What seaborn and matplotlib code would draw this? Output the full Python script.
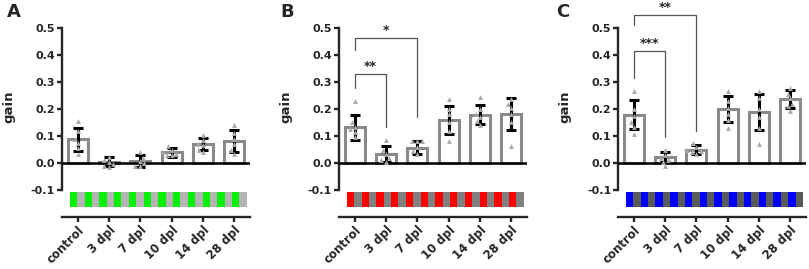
import matplotlib
matplotlib.use('Agg')
import matplotlib.pyplot as plt
import numpy as np
import pandas as pd
import seaborn as sns

###
groups = ['control', '3 dpl', '7 dpl', '10 dpl', '14 dpl', '28 dpl']

a_mean = [0.088, 0.005, 0.008, 0.039, 0.069, 0.082]
a_sd = [0.043, 0.016, 0.023, 0.016, 0.022, 0.040]
a_pts = [[0.155, 0.12, 0.09, 0.075, 0.055, 0.035],
         [0.024, 0.012, 0.005, -0.005, -0.012, -0.015],
         [0.041, 0.02, 0.008, 0.0, -0.012, -0.010],
         [0.062, 0.05, 0.042, 0.035, 0.03, 0.028],
         [0.105, 0.085, 0.072, 0.065, 0.05, 0.04],
         [0.14, 0.11, 0.09, 0.07, 0.05, 0.035]]

b_mean = [0.133, 0.034, 0.057, 0.160, 0.178, 0.182]
b_sd = [0.046, 0.030, 0.023, 0.052, 0.035, 0.060]
b_pts = [[0.228, 0.15, 0.135, 0.125, 0.115, 0.095],
         [0.085, 0.05, 0.035, 0.02, 0.01, 0.005],
         [0.082, 0.082, 0.08, 0.06, 0.045, 0.035],
         [0.236, 0.2, 0.18, 0.15, 0.12, 0.081],
         [0.243, 0.2, 0.18, 0.17, 0.155, 0.14],
         [0.238, 0.22, 0.205, 0.18, 0.15, 0.063]]

c_mean = [0.179, 0.022, 0.050, 0.200, 0.189, 0.237]
c_sd = [0.053, 0.020, 0.018, 0.047, 0.067, 0.032]
c_pts = [[0.265, 0.2, 0.175, 0.15, 0.135, 0.107],
         [0.05, 0.03, 0.02, 0.01, 0.005, -0.012],
         [0.074, 0.06, 0.05, 0.045, 0.04, 0.035],
         [0.268, 0.23, 0.205, 0.18, 0.16, 0.13],
         [0.266, 0.24, 0.2, 0.17, 0.13, 0.07],
         [0.278, 0.255, 0.24, 0.22, 0.21, 0.194]]

# brackets: (from, to, level, left leg end, right leg end, label)
b_sig = [(0, 1, 0.330, 0.277, 0.134, '**'),
         (0, 2, 0.462, 0.420, 0.171, '*')]
c_sig = [(0, 1, 0.416, 0.315, 0.097, '***'),
         (0, 2, 0.548, 0.511, 0.120, '**')]

yticks = [-0.1, 0.0, 0.1, 0.2, 0.3, 0.4, 0.5]
###

sns.set_style('ticks')
plt.rcParams['font.family'] = ['DejaVu Sans']
plt.rcParams['font.weight'] = 'bold'
plt.rcParams['axes.unicode_minus'] = False


def panel(ax, mean, sd, pts, stripe_col, gray_col, sig):
    mdf = pd.DataFrame({'group': groups, 'gain': mean})
    pdf = pd.DataFrame({'group': np.repeat(groups, [len(p) for p in pts]),
                        'gain': np.concatenate(pts)})
    sns.barplot(data=mdf, x='group', y='gain', order=groups, width=0.64,
                color='white', edgecolor='#8a8a8a', linewidth=2.2,
                saturation=1, errorbar=None, ax=ax, zorder=1)
    ax.errorbar(np.arange(len(groups)), mean, yerr=sd, fmt='none',
                ecolor='black', elinewidth=2.2, capsize=3.5, capthick=2.2,
                zorder=4)
    sns.swarmplot(data=pdf, x='group', y='gain', order=groups, marker='^',
                  color='#a8a8a8', size=3.5, ax=ax, zorder=5)
    ax.axhline(0, color='black', lw=1.8, zorder=3)
    # striped bar under the data
    n = 24
    edges = np.linspace(-0.25, 5.4, n + 1)
    cols = [stripe_col if i % 2 == 0 else gray_col for i in range(n)]
    ax.bar(edges[:-1], 0.056, width=np.diff(edges), bottom=-0.163,
           align='edge', color=cols, linewidth=0, zorder=1)
    for x1, x2, lvl, l1, l2, txt in sig:
        ax.plot([x1, x1, x2, x2], [l1, lvl, lvl, l2], color='#555555',
                lw=0.9, clip_on=False)
        ax.text((x1 + x2) / 2, lvl + 0.004, txt, ha='center', va='bottom',
                fontsize=9, clip_on=False)
    ax.set_xlim(-0.5, 5.5)
    ax.set_ylim(-0.2, 0.6)
    ax.set_yticks(yticks)
    ax.set_yticklabels(['%.1f' % v for v in yticks])
    ax.spines['left'].set_bounds(-0.1, 0.5)
    for s in ['left', 'bottom']:
        ax.spines[s].set_linewidth(1.7)
    sns.despine(ax=ax)
    ax.tick_params(width=1.7, length=3.5, labelsize=8, pad=1.5)
    ax.set_xticks(range(len(groups)))
    ax.set_xticklabels(groups, rotation=45, ha='right', fontsize=8.5,
                       rotation_mode='anchor', fontweight='bold')
    for lab in ax.get_yticklabels():
        lab.set_fontweight('bold')
    ax.set_xlabel('')
    ax.set_ylabel('gain', fontsize=9.5, fontweight='bold')
    ax.yaxis.set_label_coords(-0.25, 0.51)


fig = plt.figure(figsize=(8.09, 2.69), dpi=100)
w = 0.2324
bot = 0.1933
h = 0.803
axA = fig.add_axes([0.0766, bot, w, h])
axB = fig.add_axes([0.419, bot, w, h])
axC = fig.add_axes([0.764, bot, w, h])

panel(axA, a_mean, a_sd, a_pts, '#00f000', '#b4b4b4', [])
panel(axB, b_mean, b_sd, b_pts, '#ff0000', '#808080', b_sig)
panel(axC, c_mean, c_sd, c_pts, '#0000ff', '#5a5a5a', c_sig)

for x, letter in [(0.009, 'A'), (0.347, 'B'), (0.687, 'C')]:
    fig.text(x, 0.935, letter, fontsize=13, fontweight='bold')

fig.savefig('out.png', dpi=100)
